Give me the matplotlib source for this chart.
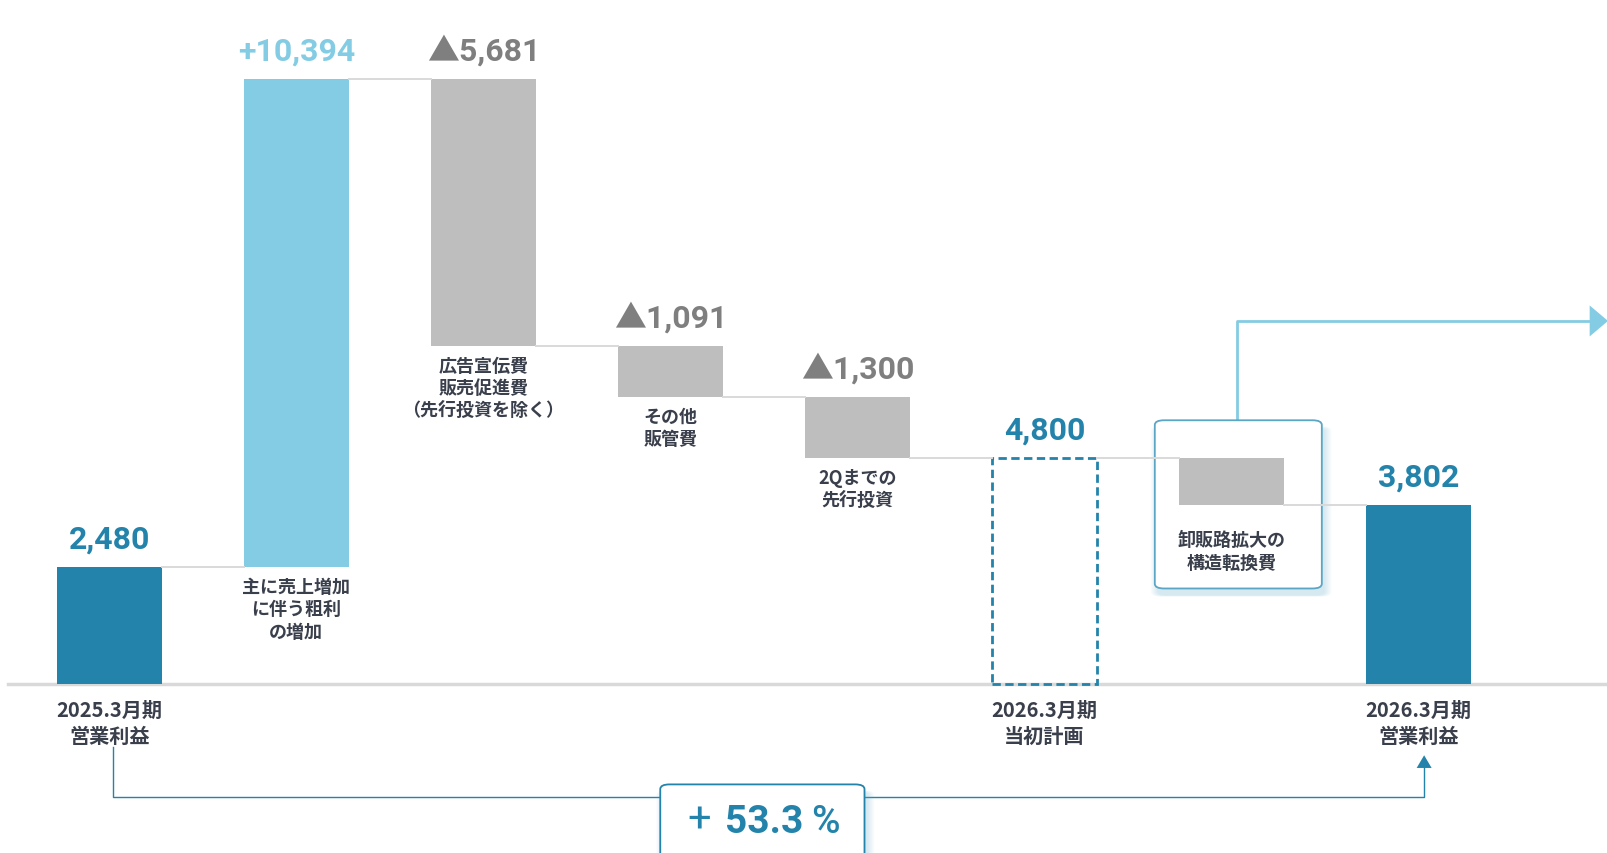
import numpy as np
import matplotlib.pyplot as plt
from matplotlib.patches import FancyBboxPatch, Rectangle, Polygon

plt.rcParams['font.family'] = ['Noto Sans CJK JP', 'DejaVu Sans']
NUM_FONT = ['Roboto', 'Noto Sans CJK JP', 'DejaVu Sans']

# データ
labels = ['2025.3月期\n営業利益', '主に売上増加\nに伴う粗利\nの増加',
          '広告宣伝費\n販売促進費\n（先行投資を除く）', 'その他\n販管費',
          '2Qまでの\n先行投資', '2026.3月期\n当初計画', '卸販路拡大の\n構造転換費',
          '2026.3月期\n営業利益']
values = [2480, 10394, -5681, -1091, -1300, 4800, -998, 3802]
kinds = ['total', 'up', 'down', 'down', 'down', 'plan', 'down', 'total']
value_texts = ['2,480', '+10,394', '▲5,681', '▲1,091', '▲1,300', '4,800', '', '3,802']
growth_value = '53.3'

TEAL = '#2383aa'
LIGHT = '#83cce4'
GRAY = '#bebebe'
GRAY_TXT = '#7f7f7f'
LINE = '#d9d9d9'
DARK = '#3a3f4c'

fig = plt.figure(figsize=(16.08, 8.54), dpi=100)
ax = fig.add_axes([0, 0, 1, 1])
ax.set_xlim(-0.584, 8.013)
ax.set_ylim(-3600, 14576)
ax.axis('off')

W = 0.56

# 各棒の下端・上端を計算
bottoms, tops = [], []
level = 0
for v, k in zip(values, kinds):
    if k in ('total', 'plan'):
        b, t = 0, v
        level = v
    elif k == 'up':
        b, t = level, level + v
        level = t
    else:
        b, t = level + v, level
        level = b
    bottoms.append(b)
    tops.append(t)

x = np.arange(len(values))

# 連結線
ends = []
for i, k in enumerate(kinds):
    ends.append(bottoms[i] if k == 'down' else tops[i])
for i in range(len(values) - 1):
    ax.plot([x[i] + W / 2, x[i + 1] - W / 2], [ends[i], ends[i]], color=LINE, lw=1.4, zorder=4)

# 基準線
ax.plot([-0.54, 8.013], [0, 0], color=LINE, lw=2.5, zorder=1)

# 強調ボックス（影つき）
def shadow_box(x0, y0, w, h, ec, z=2):
    for j in range(7):
        d = j * 0.006
        ax.add_patch(FancyBboxPatch((x0 + 0.015 - d, y0 - 150 - d * 600), w + 2 * d, h + 2 * d * 600,
                                    boxstyle='round,pad=0,rounding_size=0.05',
                                    mutation_aspect=2000, fc='#6fb3cf', ec='none',
                                    alpha=0.045, zorder=z))
    ax.add_patch(FancyBboxPatch((x0, y0), w, h, boxstyle='round,pad=0,rounding_size=0.05',
                                mutation_aspect=2000, fc='white', ec=ec, lw=1.3, zorder=z + 0.5))

shadow_box(5.59, 2030, 0.893, 3580, '#5aa6c4')

# 棒
for i, k in enumerate(kinds):
    h = tops[i] - bottoms[i]
    if k == 'total':
        ax.bar(x[i], h, W, bottoms[i], color=TEAL, zorder=3)
    elif k == 'up':
        ax.bar(x[i], h, W, bottoms[i], color=LIGHT, zorder=3)
    elif k == 'down':
        ax.bar(x[i], h, W, bottoms[i], color=GRAY, zorder=3)
    else:
        ax.add_patch(Rectangle((x[i] - W / 2, bottoms[i]), W, h, fill=False,
                               ec=TEAL, lw=2, ls=(0, (3, 1.6)), zorder=3))

# 数値ラベル
for i, k in enumerate(kinds):
    if not value_texts[i]:
        continue
    c = {'total': TEAL, 'plan': TEAL, 'up': LIGHT, 'down': GRAY_TXT}[k]
    ax.annotate(value_texts[i], (x[i], tops[i]), xytext=(0, 14), textcoords='offset points',
                ha='center', va='baseline', fontsize=23, fontweight='bold', color=c,
                family=NUM_FONT, zorder=5)

# 項目ラベル
for i, k in enumerate(kinds):
    if k in ('total', 'plan'):
        ax.annotate(labels[i], (x[i], 0), xytext=(0, -10.5), textcoords='offset points',
                    ha='center', va='top', fontsize=14.5, fontweight='bold', color=DARK,
                    linespacing=1.33, zorder=5)
    else:
        y0 = bottoms[i] if k == 'down' else tops[i] - values[i]
        ax.annotate(labels[i], (x[i], y0), xytext=(0, -18 if i == 6 else -7), textcoords='offset points',
                    ha='center', va='top', fontsize=13, fontweight='bold', color=DARK,
                    linespacing=1.22, zorder=5)

# 右上への矢印
ax.plot([6.03, 6.03, 7.92], [5610, 7724, 7724], color=LIGHT, lw=2, zorder=2)
ax.add_patch(Polygon([[7.915, 7724 + 330], [7.915, 7724 - 330], [8.013, 7724]], closed=True,
                     fc=LIGHT, ec='none', zorder=2))

# 下部の増加率
ax.plot([0.02, 0.02, 7.03, 7.03], [-1350, -2400, -2400, -1650], color=TEAL, lw=1, zorder=2)
ax.add_patch(Polygon([[7.03 - 0.04, -1790], [7.03 + 0.04, -1790], [7.03, -1520]], closed=True,
                     fc=TEAL, ec='none', zorder=2))
shadow_box(2.946, -3900, 1.092, 1760, TEAL, z=3)
ax.text(3.153, -3149, '+', ha='center', va='baseline', fontsize=30, fontweight='normal',
        color=TEAL, family=NUM_FONT, zorder=6)
ax.text(3.292, -3149, growth_value, ha='left', va='baseline', fontsize=28, fontweight='bold',
        color=TEAL, family=NUM_FONT, zorder=6)
ax.text(3.75, -3149, '%', ha='left', va='baseline', fontsize=28, fontweight='medium',
        color=TEAL, family=NUM_FONT, zorder=6)

fig.savefig('out.png', dpi=100)
